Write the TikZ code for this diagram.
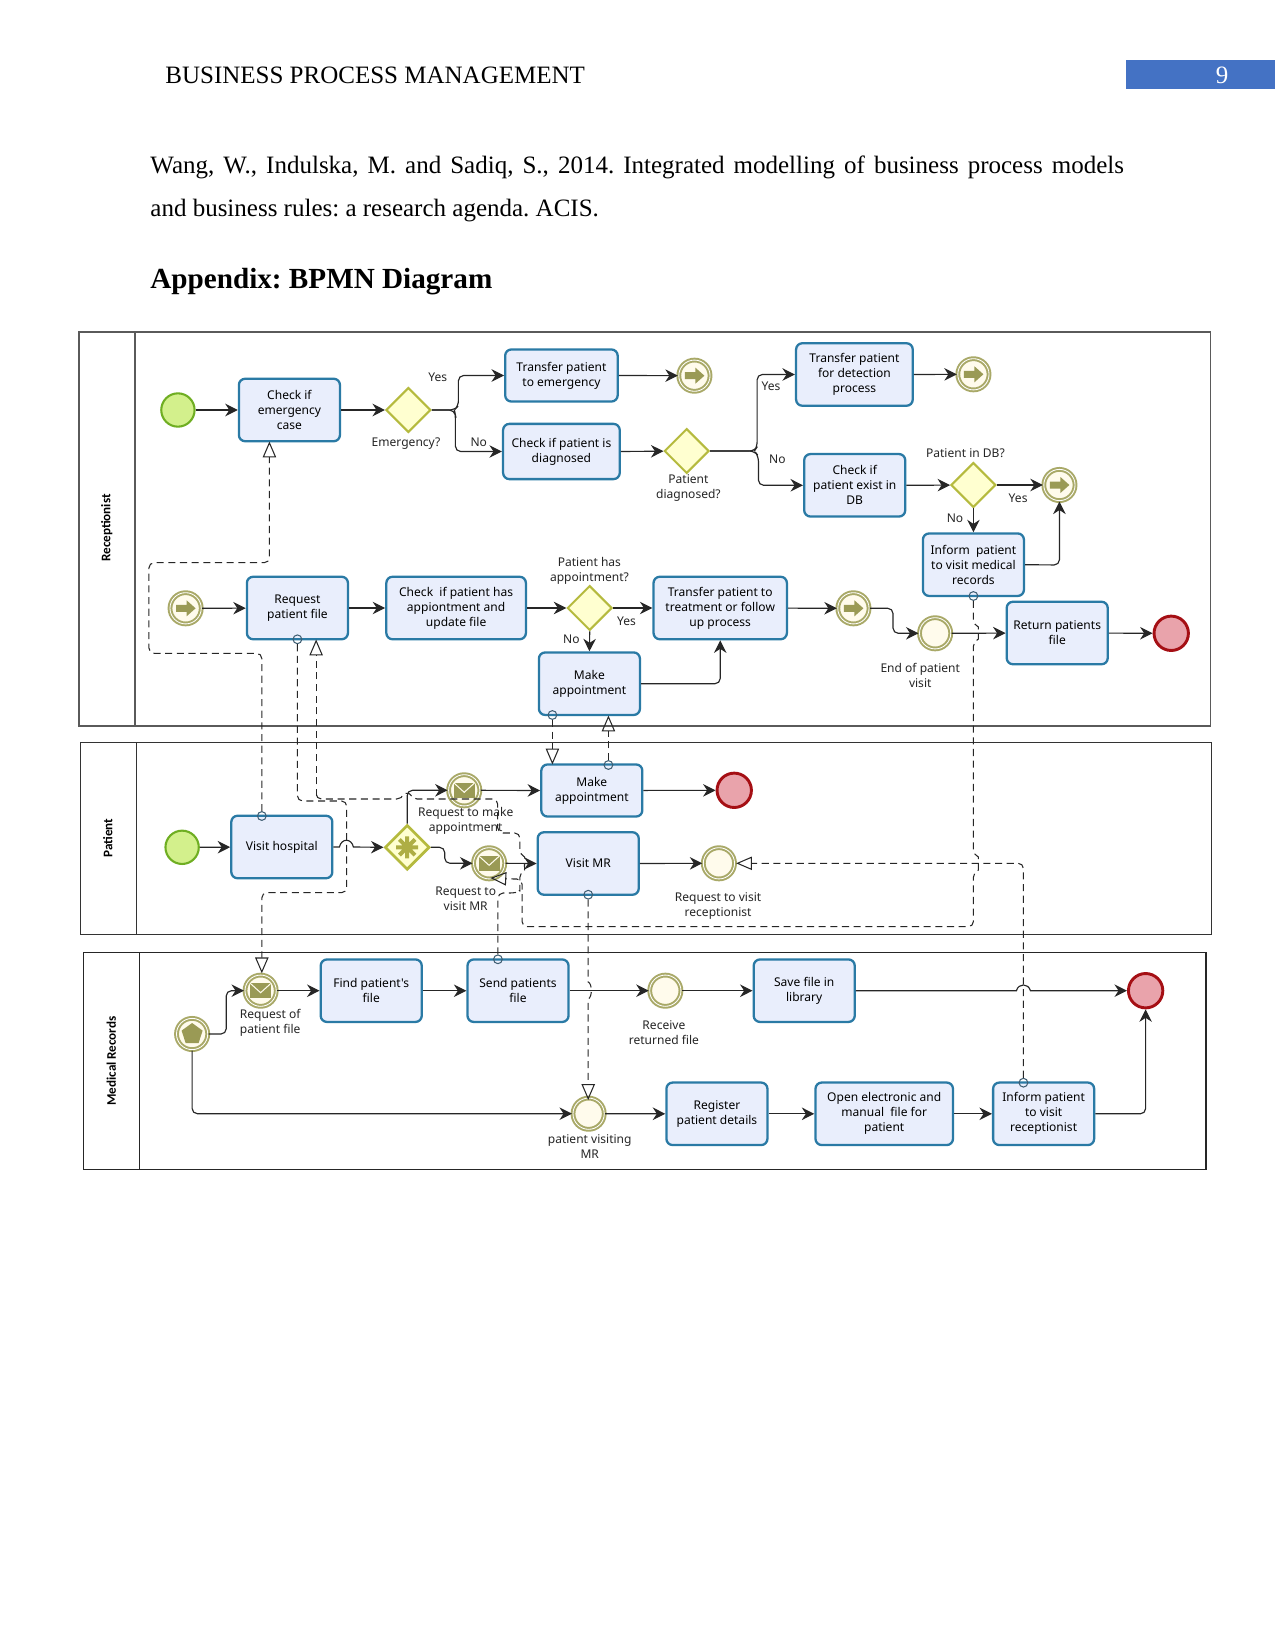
\documentclass[tikz,border=0pt]{standalone}
\usepackage{fontspec}
\setmainfont{Liberation Serif}
\newfontfamily\dfam{Noto Sans}
\newfontfamily\lfam{Carlito}
\usetikzlibrary{arrows.meta,shapes.geometric}
\definecolor{taskfill}{HTML}{E9EEFC}
\definecolor{taskline}{HTML}{2A7AA5}
\definecolor{oliv}{HTML}{A9A968}
\definecolor{olivdark}{HTML}{9A9A55}
\definecolor{cream}{HTML}{FFFBEC}
\definecolor{startfill}{HTML}{D3F08C}
\definecolor{startline}{HTML}{6FAE22}
\definecolor{endfill}{HTML}{E9A3AB}
\definecolor{endline}{HTML}{A50F14}
\definecolor{gwfill}{HTML}{FFFFD0}
\definecolor{gwline}{HTML}{B5BA3E}
\definecolor{lanegray}{HTML}{5A5A5A}
\definecolor{msgcirc}{HTML}{3F5E73}
\definecolor{headblue}{HTML}{4472C4}
\tikzset{
  task/.style={draw=taskline,fill=taskfill,line width=1.1pt,rounded corners=3pt,inner sep=0pt,
    minimum width=48.5pt,minimum height=30pt,align=center,font=\dfnt},
  gate/.style={diamond,aspect=1,draw=gwline,fill=gwfill,line width=1pt,inner sep=0pt,minimum width=21.5pt,minimum height=21.5pt},
  startev/.style={circle,draw=startline,fill=startfill,line width=1pt,inner sep=0pt,minimum size=16pt},
  endev/.style={circle,draw=endline,fill=endfill,line width=1.4pt,inner sep=0pt,minimum size=16.5pt},
  midev/.style={circle,draw=oliv,fill=cream,line width=0.95pt,inner sep=0pt,minimum size=15pt,
     double=white,double distance=0.4pt},
  lbl/.style={align=center,inner sep=0pt,font=\dfnt,text=black!85},
  mc/.style={circle,draw=msgcirc,line width=0.5pt,inner sep=0pt,minimum size=4.2pt},
  seq/.style={draw=black!85,line width=0.55pt,rounded corners=2.5pt,-{Stealth[length=6pt,width=6pt]}},
  msgf/.style={draw=black!85,line width=0.5pt,rounded corners=2.5pt,dash pattern=on 3.4pt off 2.2pt},
  msgt/.style={msgf,-{Triangle[open,length=7.6pt,width=6.4pt,line width=0.5pt]}},
  lane/.style={draw=lanegray,line width=0.7pt},
  lanelbl/.style={rotate=90,inner sep=0pt,font=\lfam\bfseries\fontsize{6.3}{7.5}\selectfont},
  pics/arrowsym/.style={code={\fill[olivdark] (-9.5,-3.5)--(1,-3.5)--(1,-8)--(10,0)--(1,8)--(1,3.5)--(-9.5,3.5)--cycle;}},
  pics/envsym/.style={code={\fill[olivdark] (-10.5,-7.5) rectangle (10.5,7.5);
     \draw[cream,line width=0.5pt] (-10.5,-7.5)--(0,2)--(10.5,-7.5);}},
  pics/pentsym/.style={code={\fill[olivdark] (0,-11)--(10.5,-3.4)--(6.5,9)--(-6.5,9)--(-10.5,-3.4)--cycle;}},
  pics/starsym/.style={code={\draw[olivdark!80!yellow,line width=1.9pt] (0,-11)--(0,11) (-11,0)--(11,0) (-7.8,-7.8)--(7.8,7.8) (-7.8,7.8)--(7.8,-7.8);}},
}
\newcommand{\dfnt}{\dfam\fontsize{5.78}{7.2}\selectfont}
\begin{document}
\frenchspacing
\begin{tikzpicture}[x=0.48pt,y=-0.48pt]
\useasboundingbox (0,0) rectangle (1275,1650);
\fill[white] (0,0) rectangle (1275,1650);
% page text
\fill[headblue] (1125.6,60.5) rectangle (1275,89.4);
\node[anchor=base west,inner sep=0pt,font=\fontsize{12}{14}\selectfont] (hdr) at (165,84) {BUSINESS PROCESS MANAGEMENT};
\node[anchor=base,inner sep=0pt,text=white,font=\fontsize{12}{14}\selectfont] (pg) at (1222,84) {9};
\node[anchor=north west,inner sep=0pt,text width=467.3pt,align=justify,font=\fontsize{12}{20.7}\selectfont] (refs) at (150,155) {Wang, W., Indulska, M. and Sadiq, S., 2014. Integrated modelling of business process models\linebreak and business rules: a research agenda. ACIS.};
\node[anchor=base west,inner sep=0pt,font=\bfseries\fontsize{14}{16}\selectfont] (app) at (150,289) {Appendix: BPMN Diagram};
\begin{scope}[xshift=0.2pt,yshift=0pt]
% lanes
\draw[lane] (78.4,332) rectangle (1210,726) (134.7,332)--(134.7,726);
\draw[lane,draw=black!80,line width=0.55pt] (80,742.7) rectangle (1211.4,934.7) (135.8,742.7)--(135.8,934.7);
\draw[lane,draw=black!85,line width=0.55pt] (83.4,952.3) rectangle (1205.6,1169.3) (139.3,952.3)--(139.3,1169.3);
\node[lanelbl] (lr) at (106.4,528) {Receptionist};
\node[lanelbl] (lp) at (107.5,838) {Patient};
\node[lanelbl] (lm) at (111,1061) {Medical Records};
% --- Receptionist
\node[startev] (s1) at (177.5,410) {};
\node[task] (t1) at (289,410) {Check if\\emergency\\case};
\node[gate] (g1) at (408,410) {};
\node[task,minimum width=54pt,minimum height=25pt] (t2) at (561,375.5) {Transfer patient\\to emergency};
\node[task,minimum width=56pt,minimum height=26.5pt] (t3) at (561,451.5) {Check if patient is\\diagnosed};
\node[midev] (e1) at (694,375.7) {};
\node[gate] (g2) at (686.3,451) {};
\node[task,minimum width=56pt] (t4) at (854,374.5) {Transfer patient\\for detection\\process};
\node[midev] (e2) at (973,374.3) {};
\node[task] (t5) at (854.3,485.3) {Check if\\patient exist in\\DB};
\node[gate] (g3) at (973,485) {};
\node[midev] (e3) at (1059,485) {};
\node[task] (t6) at (973,564.7) {Inform\ \ patient\\to visit medical\\records};
\node[midev] (e4) at (185.2,608.3) {};
\node[task] (t7) at (297,608) {Request\\patient file};
\node[task,minimum width=67pt] (t8) at (455.7,608) {Check\ \ if patient has\\appiontment and\\update file};
\node[gate] (g4) at (589.3,608) {};
\node[task,minimum width=64pt] (t9) at (719.8,608) {Transfer patient to\\treatment or follow\\up process};
\node[midev] (e5) at (853,608.3) {};
\node[midev] (e6) at (934.7,633.3) {};
\node[task] (t10) at (1056.8,633) {Return patients\\file};
\node[endev] (x1) at (1170.8,633.3) {};
\node[task] (t11) at (589,683.7) {Make\\appointment};
\foreach \n in {e1,e2,e3,e4,e5} \pic at (\n) {arrowsym};
% labels
\node[lbl] (l1) at (437.4,377) {Yes};
\node[lbl] (l2) at (405.6,443.7) {Emergency?};
\node[lbl] (l3) at (478.3,442.7) {No};
\node[lbl] (l4) at (770.5,386.3) {Yes};
\node[lbl] (l5) at (777,459) {No};
\node[lbl] (l6) at (688,488.4) {Patient\\diagnosed?};
\node[lbl] (l7) at (965,452.7) {Patient in DB?};
\node[lbl] (l8) at (1017.7,498.3) {Yes};
\node[lbl] (l9) at (954.6,518) {No};
\node[lbl] (l10) at (589,571) {Patient has\\appointment?};
\node[lbl] (l11) at (626,621.3) {Yes};
\node[lbl] (l12) at (571,639) {No};
\node[lbl] (l13) at (919.8,675.7) {End of patient\\visit};
% --- Patient
\node[startev] (s2) at (181.7,847.3) {};
\node[task] (t12) at (281.4,847) {Visit hospital};
\node[gate,line width=1.3pt] (g5) at (406.8,847.3) {};
\pic at (g5) {starsym};
\node[midev] (m1) at (463.8,790.3) {};
\node[midev] (m2) at (488.7,863.3) {};
\foreach \n in {m1,m2} \pic at (\n) {envsym};
\node[task,minimum height=25pt] (t13) at (591.4,790.5) {Make\\appointment};
\node[endev] (x2) at (733.8,790.3) {};
\node[task] (t14) at (587.8,863.5) {Visit MR};
\node[midev] (e7) at (718.5,863.3) {};
\node[lbl] (l14) at (465.3,821.3) {Request to make\\appointment};
\node[lbl] (l15) at (465.3,899) {Request to\\visit MR};
\node[lbl] (l16) at (717.7,906) {Request to visit\\receptionist};
% --- Medical records
\node[midev] (p1) at (191.7,1034) {};
\pic at (p1) {pentsym};
\node[midev] (m3) at (260.2,990.7) {};
\pic at (m3) {envsym};
\node[task] (t15) at (370.8,990.7) {Find patient's\\file};
\node[task] (t16) at (517.6,990.7) {Send patients\\file};
\node[midev] (e8) at (664.9,990.7) {};
\node[task] (t17) at (803.8,990.7) {Save file in\\library};
\node[endev] (x3) at (1145.2,990.7) {};
\node[midev] (e9) at (588.2,1113.7) {};
\node[task] (t18) at (716.5,1113.8) {Register\\patient details};
\node[task,minimum width=66pt] (t19) at (883.8,1113.8) {Open electronic and\\manual\ \ file for\\patient};
\node[task] (t20) at (1043.2,1113.8) {Inform patient\\to visit\\receptionist};
\node[lbl] (l17) at (269.8,1023) {Request of\\patient file};
\node[lbl] (l18) at (663.5,1033) {Receive\\returned file};
\node[lbl] (l19) at (589.3,1147) {patient visiting\\MR};
% sequence flows
\draw[seq] (s1)--(t1);
\draw[seq] (t1)--(g1);
\draw[seq] (g1.east)--(454,410)--(458,406)--(458,375.5)--(t2.west);
\draw[seq] (g1.east)--(454,410)--(455,415)--(455,451.5)--(t3.west);
\draw[seq] (t2.east)--(e1);
\draw[seq] (t3.east)--(g2);
\draw[seq] (g2.east)--(754,451)--(756.7,447)--(756.7,374.5)--(t4.west);
\draw[seq] (g2.east)--(754,451)--(758,456)--(758,485.3)--(t5.west);
\draw[seq] (t4.east)--(e2);
\draw[seq] (t5.east)--(g3);
\draw[seq] (g3.east)--(e3);
\draw[seq] (g3.south)--(t6.north);
\draw[seq] (t6.east)--(1059,565)--(e3.south);
\draw[seq] (e4)--(t7);
\draw[seq] (t7)--(t8);
\draw[seq] (t8)--(g4);
\draw[seq] (g4)--(t9);
\draw[seq] (g4.south)--(t11.north);
\draw[seq] (t11.east)--(719.8,683.7)--(t9.south);
\draw[seq] (t9)--(e5);
\draw[seq] (e5.east)--(892.6,608.3)--(892.6,633.3)--(e6.west);
\draw[seq] (e6)--(t10);
\draw[seq] (t10)--(x1);
\draw[seq] (s2)--(t12);
\draw[seq,rounded corners=0pt] (t12.east)--(339,847) .. controls (341,838) and (351,838) .. (353,847)--(g5.west);
\draw[seq] (g5.north)--(406.8,790.3)--(m1.west);
\draw[seq] (g5.east)--(444.3,847.3)--(444.3,863.3)--(m2.west);
\draw[seq] (m1.east)--(t13.west);
\draw[seq] (t13)--(x2);
\draw[seq] (m2.east)--(t14.west);
\draw[seq] (t14.east)--(e7.west);
\draw[seq] (p1.east)--(225.8,1034)--(225.8,990.7)--(m3.west);
\draw[seq] (p1.south)--(191.7,1113.7)--(e9.west);
\draw[seq] (m3)--(t15);
\draw[seq] (t15)--(t16);
\draw[seq] (t16)--(e8);
\draw[seq] (e8)--(t17);
\draw[seq,rounded corners=0pt] (t17.east)--(1016,990.7) .. controls (1018,983) and (1028,983) .. (1030,990.7)--(x3.west);
\draw[seq] (e9)--(t18);
\draw[seq] (t18)--(t19);
\draw[seq] (t19)--(t20);
\draw[seq] (t20.east)--(1145.2,1113.8)--(x3.south);
% message-flow ends
\node[mc] (c1) at (261.4,816) {};
\node[mc] (c2) at (297,639.3) {};
\node[mc] (c3) at (552,715) {};
\node[mc] (c4) at (608,765) {};
\node[mc] (c5) at (973,596) {};
\node[mc] (c6) at (587.8,894.7) {};
\node[mc] (c7) at (497.5,959.3) {};
\node[mc] (c8) at (1023,1082.7) {};
\coordinate (a1) at (269,441.5);
\coordinate (a2) at (315.7,639.5);
\coordinate (a3) at (552,764.5);
\coordinate (a4) at (608,715.5);
\coordinate (a5) at (261.4,973.3);
\coordinate (a6) at (490,878);
\coordinate (a7) at (735.7,863.3);
\coordinate (a8) at (587.8,1100);
% message flows
\draw[msgt] (c1.north)--(261.4,653.3)--(148.5,653.3)--(148.5,562.7)--(269,562.7)--(a1);
\draw[msgt] (c2.south)--(297,801)--(346.3,801)--(346.3,892.7)--(261.4,892.7)--(a5);
\draw[msgt] (c3.south)--(a3);
\draw[msgt] (c4.north)--(a4);
\draw[msgf] (c7.north)--(497.5,893)--(515,893) .. controls (518,892) and (519.5,889) .. (519.5,885)--(519.5,872) .. controls (524,870) and (524,857) .. (519.5,855)--(519.5,833)--(497.3,833)--(497.3,799)--(411.5,799) .. controls (409,793) and (404,793) .. (401.5,799)--(315.7,799)--(315.7,796);
\draw[msgt] (315.7,796)--(a2);
\draw[msgt] (c5.south)--(973,625) .. controls (978,627) and (978,639) .. (973,641)--(973,855) .. controls (978,857) and (978,870) .. (973,872)--(973,926.7)--(521.6,926.7)--(521.6,879)--(510,879)--(a6);
\draw[msgt] (c8.north)--(1023,863.3)--(a7);
\draw[msgt,rounded corners=0pt] (c6.south)--(587.8,982) .. controls (592,984) and (592,997) .. (587.8,999)--(a8);
\end{scope}
\end{tikzpicture}
\end{document}
